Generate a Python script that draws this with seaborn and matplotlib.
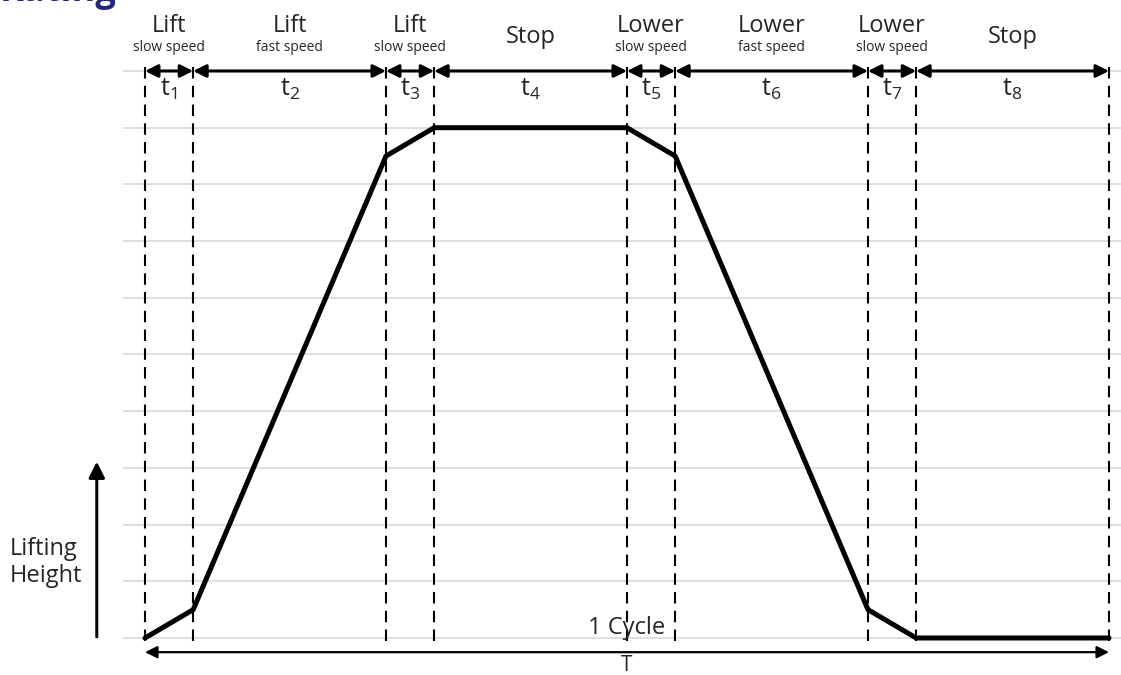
import numpy as np
import pandas as pd
import matplotlib
matplotlib.use("Agg")
import matplotlib.pyplot as plt
import seaborn as sns

# phase boundaries (time units) and lifting height at each boundary
t_bounds = [0, 1, 5, 6, 10, 11, 15, 16, 20]
height = [0, 0.5, 8.5, 9, 9, 8.5, 0.5, 0, 0]
phase_main = ["Lift", "Lift", "Lift", "Stop", "Lower", "Lower", "Lower", "Stop"]
phase_sub = ["slow speed", "fast speed", "slow speed", "", "slow speed", "fast speed", "slow speed", ""]
t_labels = ["1", "2", "3", "4", "5", "6", "7", "8"]
grid_levels = list(range(0, 11))

sns.set_theme(style="white")
plt.rcParams['font.family'] = ['Open Sans', 'DejaVu Sans']
plt.rcParams['mathtext.fontset'] = 'custom'
plt.rcParams['mathtext.rm'] = 'Open Sans'

fig = plt.figure(figsize=(11.21, 6.75), dpi=100)
ax = fig.add_axes([0, 0, 1, 1])
ax.set_xlim(-3.008, 20.249)
ax.set_ylim(-0.6526, 11.252)
ax.axis("off")

# light horizontal grid
ax.hlines(grid_levels, -0.46, 20.3, color="#d6d6d6", lw=1.1, zorder=0)

# dashed phase boundaries
ax.vlines(t_bounds, -0.05, 10.12, color="black", lw=1.5,
          linestyles=(0, (5.5, 3.5)), zorder=1)

# lifting profile
df = pd.DataFrame({"t": t_bounds, "h": height})
sns.lineplot(data=df, x="t", y="h", ax=ax, color="black", lw=3.6,
             sort=False, estimator=None, zorder=3)

# top double arrows and labels
for i in range(8):
    a, b = t_bounds[i], t_bounds[i + 1]
    ax.annotate("", xy=(b, 10), xytext=(a, 10),
                arrowprops=dict(arrowstyle="<|-|>", color="black", lw=2.2,
                                mutation_scale=19, shrinkA=0, shrinkB=0))
    mid = (a + b) / 2
    ax.text(mid, 9.68, r"$\mathregular{t_{%s}}$" % t_labels[i], ha="center",
            va="center", fontsize=18)
    if phase_sub[i]:
        ax.text(mid, 10.8, phase_main[i], ha="center", va="center", fontsize=17)
        ax.text(mid, 10.41, phase_sub[i], ha="center", va="center", fontsize=10)
    else:
        ax.text(mid, 10.6, phase_main[i], ha="center", va="center", fontsize=17)

# bottom cycle arrow
ax.annotate("", xy=(20, -0.25), xytext=(0, -0.25),
            arrowprops=dict(arrowstyle="<|-|>", color="black", lw=1.6,
                            mutation_scale=18, shrinkA=0, shrinkB=0))
ax.text(10, 0.18, "1 Cycle", ha="center", va="center", fontsize=17)
ax.text(10, -0.49, "T", ha="center", va="center", fontsize=15)

# y-direction arrow and label
ax.annotate("", xy=(-1.0, 3.11), xytext=(-1.0, 0.02),
            arrowprops=dict(arrowstyle="-|>", color="black", lw=2.2,
                            mutation_scale=24, shrinkA=0, shrinkB=0))
ax.text(-2.8, 1.33, "Lifting\nHeight", ha="left", va="center", fontsize=17,
        linespacing=1.2)

# clipped heading at the top
ax.text(-3.02, 11.4, "Rating", ha="left", va="center", fontsize=26,
        fontweight="bold", color="#27257a")

fig.savefig("out.png", dpi=100)
